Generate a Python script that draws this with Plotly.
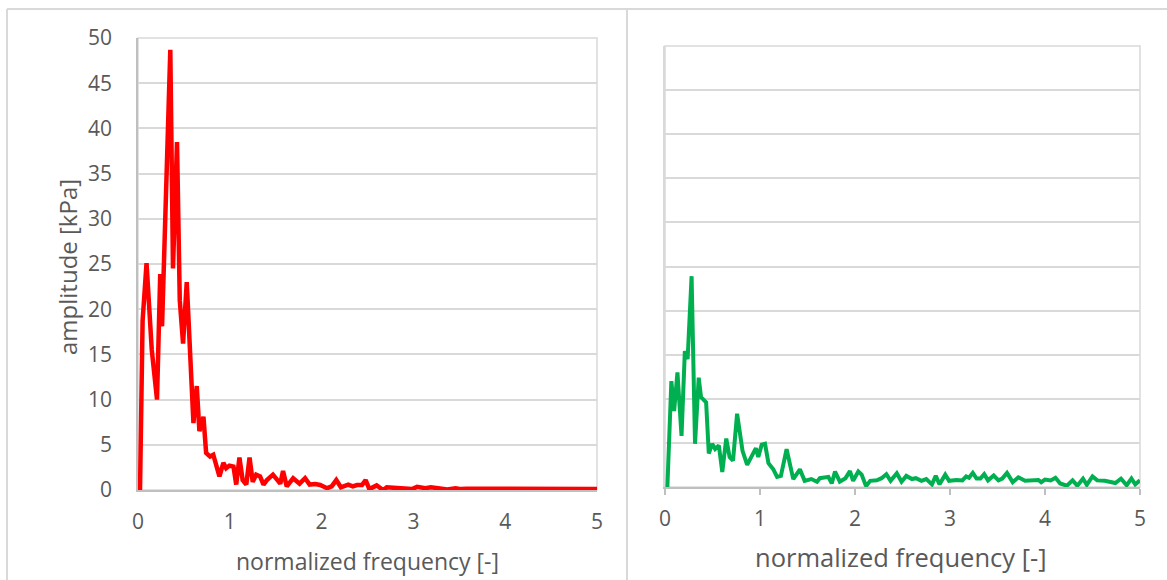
import plotly.graph_objects as go

# ---------------- data ----------------
red_freq = [0.022, 0.05, 0.093, 0.15, 0.207, 0.242, 0.262, 0.352, 0.381, 0.425, 0.455, 0.491,
            0.531, 0.604, 0.64, 0.669, 0.713, 0.742, 0.785, 0.82, 0.887, 0.93, 0.96, 0.996,
            1.04, 1.07, 1.105, 1.14, 1.18, 1.215, 1.25, 1.287, 1.33, 1.367, 1.404, 1.47,
            1.51, 1.55, 1.58, 1.62, 1.69, 1.76, 1.82, 1.87, 1.93, 1.985, 2.06, 2.11, 2.16,
            2.21, 2.29, 2.34, 2.385, 2.44, 2.48, 2.52, 2.6, 2.67, 2.71, 2.76, 2.82, 2.9,
            2.985, 3.04, 3.09, 3.13, 3.19, 3.24, 3.3, 3.37, 3.46, 3.52, 3.58, 3.69, 3.78,
            3.86, 3.95, 4.05, 4.15, 4.25, 4.35, 4.45, 4.55, 4.65, 4.75, 4.85, 4.95, 5.0]
red_amp = [0.0, 18.7, 25.1, 15.5, 10.0, 23.9, 18.1, 48.7, 24.5, 38.5, 21.0, 16.2,
           23.0, 7.4, 11.5, 6.5, 8.1, 4.1, 3.7, 3.9, 1.5, 3.0, 2.4, 2.7,
           2.6, 0.6, 3.6, 1.1, 0.6, 3.6, 0.9, 1.7, 1.5, 0.6, 1.1, 1.7,
           1.2, 0.7, 2.1, 0.4, 1.3, 0.7, 1.3, 0.6, 0.65, 0.55, 0.2, 0.4, 1.1,
           0.3, 0.6, 0.4, 0.55, 0.55, 1.1, 0.1, 0.5, 0.0, 0.3, 0.25, 0.3, 0.2,
           0.1, 0.35, 0.3, 0.2, 0.3, 0.25, 0.2, 0.05, 0.2, 0.1, 0.15, 0.15, 0.1,
           0.12, 0.1, 0.12, 0.1, 0.1, 0.12, 0.08, 0.1, 0.12, 0.1, 0.08, 0.1, 0.1]

green_freq = [0.025, 0.067, 0.096, 0.131, 0.174, 0.209, 0.238, 0.28, 0.316, 0.355, 0.379,
              0.433, 0.461, 0.496, 0.528, 0.567, 0.603, 0.645, 0.68, 0.716, 0.759, 0.816,
              0.865, 0.911, 0.957, 0.982, 1.018, 1.053, 1.089, 1.14, 1.18, 1.22, 1.28,
              1.35, 1.42, 1.47, 1.54, 1.6, 1.63, 1.72, 1.755, 1.79, 1.84, 1.9, 1.947,
              1.98, 2.035, 2.07, 2.116, 2.16, 2.23, 2.28, 2.33, 2.375, 2.44, 2.49, 2.54,
              2.6, 2.64, 2.7, 2.75, 2.81, 2.85, 2.89, 2.95, 2.99, 3.07, 3.13, 3.17, 3.2,
              3.24, 3.28, 3.32, 3.36, 3.4, 3.46, 3.51, 3.55, 3.6, 3.66, 3.72, 3.79, 3.87,
              3.93, 3.96, 4.0, 4.06, 4.11, 4.16, 4.23, 4.29, 4.34, 4.4, 4.44, 4.5, 4.55,
              4.63, 4.7, 4.74, 4.8, 4.86, 4.91, 4.95, 5.0]
green_amp = [0.0, 12.0, 8.6, 13.0, 5.8, 15.4, 14.5, 23.9, 4.9, 12.4, 10.2,
             9.6, 3.8, 4.9, 4.3, 4.7, 1.7, 5.5, 3.4, 3.0, 8.3, 4.1,
             2.5, 3.4, 4.4, 3.4, 4.8, 4.9, 2.7, 2.0, 1.15, 1.26, 4.3,
             0.9, 2.0, 0.7, 0.9, 0.6, 1.0, 1.15, 0.4, 1.75, 0.6, 1.0, 1.8,
             0.7, 1.75, 1.4, 0.1, 0.7, 0.76, 1.0, 1.45, 0.7, 1.56, 0.6, 1.26,
             0.9, 1.0, 0.7, 0.9, 0.3, 1.26, 0.3, 1.4, 0.7, 0.8, 0.75, 1.2, 1.05,
             1.6, 0.95, 0.95, 1.45, 0.75, 1.3, 0.75, 0.95, 1.6, 0.55, 1.1, 0.7, 0.75,
             0.8, 0.55, 0.85, 0.75, 1.05, 0.4, 0.15, 0.75, 0.15, 0.95, 0.25, 1.2, 0.75,
             0.7, 0.55, 0.45, 0.95, 0.2, 0.95, 0.3, 0.75]

x_ticks = [0, 1, 2, 3, 4, 5]
x_ticklabels = ["0", "1", "2", "3", "4", "5"]
y_ticks = [0, 5, 10, 15, 20, 25, 30, 35, 40, 45, 50]
y_ticklabels = ["0", "5", "10", "15", "20", "25", "30", "35", "40", "45", "50"]

x_title = "normalized frequency [-]"
y_title = "amplitude [kPa]"

# ---------------- figure ----------------
W, H = 1167, 580
FONT = "Open Sans"
TXT = "#595959"
GRID = "#d9d9d9"
AXL = "#bfbfbf"


def px(x):
    return x / W


def py(y):
    return 1 - y / H


fig = go.Figure()
fig.add_trace(go.Scatter(x=red_freq, y=red_amp, mode="lines",
                         line=dict(color="#ff0000", width=4.5), xaxis="x", yaxis="y",
                         showlegend=False, hoverinfo="x+y"))
fig.add_trace(go.Scatter(x=green_freq, y=green_amp, mode="lines",
                         line=dict(color="#00b050", width=4), xaxis="x2", yaxis="y2",
                         showlegend=False, hoverinfo="x+y"))

common_x = dict(range=[0, 5], tickvals=x_ticks, ticktext=x_ticklabels, showgrid=False,
                zeroline=False, showline=True, linecolor=AXL, linewidth=1.5,
                automargin=False, fixedrange=True)
common_y = dict(range=[0, 50], tickvals=y_ticks, ticktext=y_ticklabels, showgrid=True,
                gridcolor=GRID, gridwidth=1.5, zeroline=False, automargin=False,
                fixedrange=True)

fig.update_layout(
    width=W, height=H, autosize=False,
    margin=dict(l=0, r=0, t=0, b=0, pad=0, autoexpand=False),
    paper_bgcolor="white", plot_bgcolor="white",
    xaxis=dict(domain=[px(138), px(597)], anchor="y", ticks="",
               ticklabelstandoff=12, tickfont=dict(family=FONT, size=21, color=TXT),
               **common_x),
    yaxis=dict(domain=[py(490), py(38)], anchor="x", showline=True, linecolor=AXL,
               linewidth=1.5, ticks="", ticklabelstandoff=20,
               tickfont=dict(family=FONT, size=21, color=TXT), **common_y),
    xaxis2=dict(domain=[px(665), px(1140)], anchor="y2", ticks="outside", ticklen=6,
                tickcolor=AXL, tickwidth=1.5, ticklabelstandoff=6,
                tickfont=dict(family=FONT, size=21, color=TXT), **common_x),
    yaxis2=dict(domain=[py(487), py(46)], anchor="x2", showline=True, linecolor=GRID,
                linewidth=1.5, showticklabels=False, ticks="", **common_y),
    font=dict(family=FONT, color=TXT),
)

shapes = []
# plot-area frames
for xr, yr in (("x", "y"), ("x2", "y2")):
    shapes.append(dict(type="rect", xref=f"{xr} domain", yref=f"{yr} domain",
                       x0=0, x1=1, y0=0, y1=1, line=dict(color=GRID, width=1.5),
                       layer="below"))
# outer chart borders and divider
shapes.append(dict(type="line", xref="paper", yref="paper", x0=px(7), x1=1,
                   y0=py(9), y1=py(9), line=dict(color=GRID, width=2)))
shapes.append(dict(type="line", xref="paper", yref="paper", x0=px(7), x1=px(7),
                   y0=py(9), y1=0, line=dict(color=GRID, width=2)))
shapes.append(dict(type="line", xref="paper", yref="paper", x0=px(627), x1=px(627),
                   y0=py(9), y1=0, line=dict(color=GRID, width=2)))
fig.update_layout(shapes=shapes)

annotations = [
    dict(text=x_title, xref="paper", yref="paper", x=px(367), y=py(561),
         showarrow=False, font=dict(family=FONT, size=23, color=TXT),
         xanchor="center", yanchor="middle"),
    dict(text=x_title, xref="paper", yref="paper", x=px(901), y=py(557),
         showarrow=False, font=dict(family=FONT, size=25.5, color=TXT),
         xanchor="center", yanchor="middle"),
    dict(text=y_title, xref="paper", yref="paper", x=px(67), y=py(267),
         showarrow=False, textangle=-90, font=dict(family=FONT, size=24, color=TXT),
         xanchor="center", yanchor="middle"),
]
fig.update_layout(annotations=annotations)

fig.write_html("out.html")
